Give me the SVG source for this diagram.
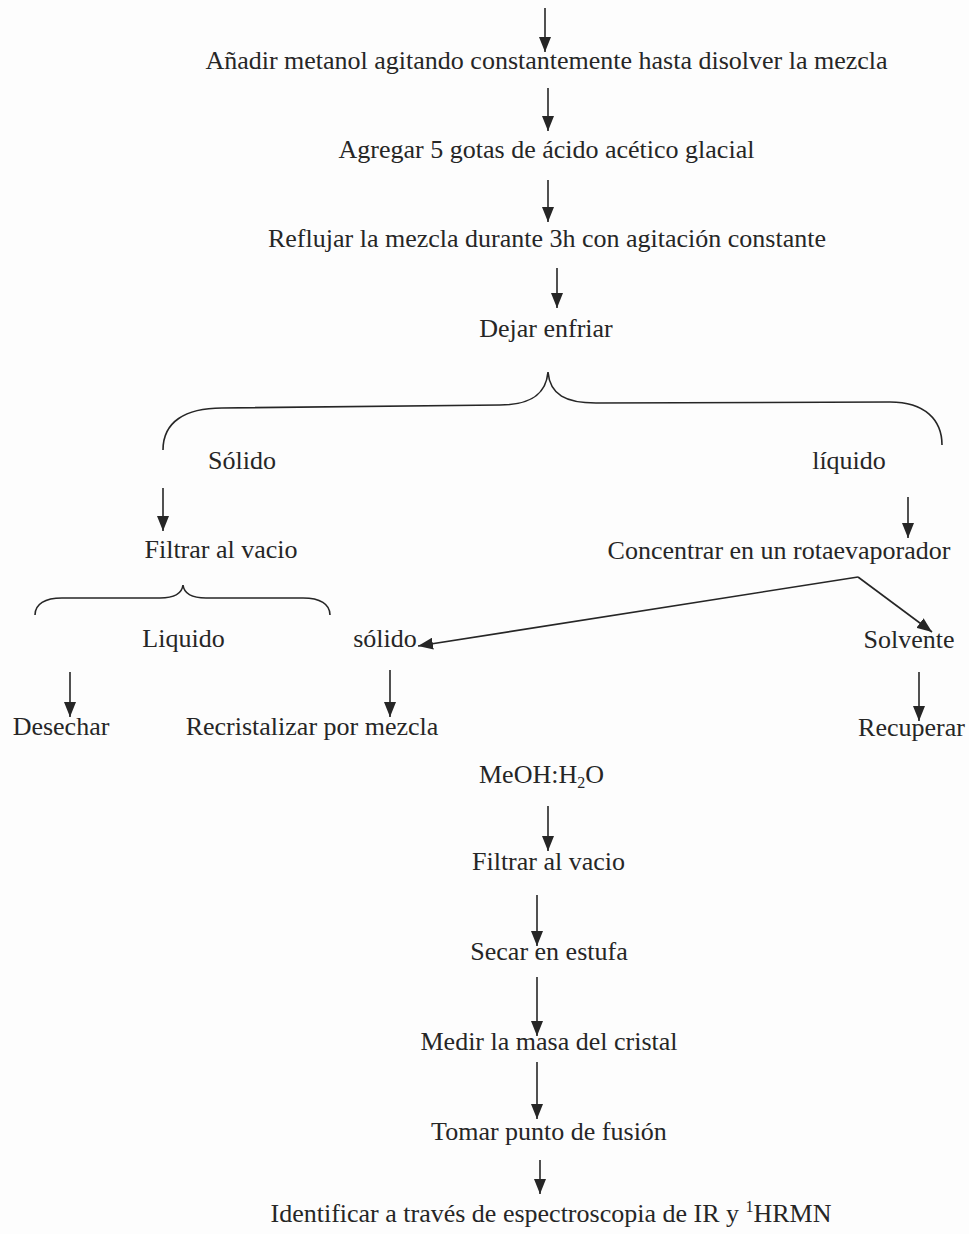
<svg xmlns="http://www.w3.org/2000/svg" width="969" height="1234" viewBox="0 0 969 1234">
<style>
text{font-family:'Liberation Serif','Times New Roman',Times,serif;font-size:26px;fill:#262626;text-anchor:middle}
.c{fill:none;stroke:#262626;stroke-width:1.6}
</style>
<defs>
<marker id="ar" markerUnits="userSpaceOnUse" markerWidth="16" markerHeight="12" viewBox="0 0 16 12" refX="15" refY="6" orient="auto">
<path d="M0,0 L15,6 L0,12 Z" fill="#262626"/>
</marker>
</defs>
<rect width="969" height="1234" fill="#fdfdfd"/>
<g id="connectors">
<line class="c" x1="545" y1="8" x2="545" y2="52" marker-end="url(#ar)"/>
<line class="c" x1="548" y1="88" x2="548" y2="131" marker-end="url(#ar)"/>
<line class="c" x1="548" y1="180" x2="548" y2="222" marker-end="url(#ar)"/>
<line class="c" x1="557" y1="268" x2="557" y2="308" marker-end="url(#ar)"/>
<path class="c" d="M163,450 C163,422 185,408 222,408 L500,405 C530,405 546,395 548,372 C550,395 566,403 596,403 L890,402 C925,402 942,420 942,445"/>
<line class="c" x1="163" y1="488" x2="163" y2="531" marker-end="url(#ar)"/>
<line class="c" x1="908" y1="497" x2="908" y2="538" marker-end="url(#ar)"/>
<path class="c" d="M35,615 C35,604 45,598 62,598 L160,598 C175,598 182,593 183,585 C184,593 191,598 206,598 L303,598 C320,598 330,604 330,615"/>
<line class="c" x1="858" y1="577" x2="418" y2="646" marker-end="url(#ar)"/>
<line class="c" x1="858" y1="577" x2="932" y2="632" marker-end="url(#ar)"/>
<line class="c" x1="70" y1="672" x2="70" y2="717" marker-end="url(#ar)"/>
<line class="c" x1="390" y1="670" x2="390" y2="717" marker-end="url(#ar)"/>
<line class="c" x1="919" y1="672" x2="919" y2="721" marker-end="url(#ar)"/>
<line class="c" x1="548" y1="806" x2="548" y2="851" marker-end="url(#ar)"/>
<line class="c" x1="537" y1="895" x2="537" y2="946" marker-end="url(#ar)"/>
<line class="c" x1="537" y1="977" x2="537" y2="1036" marker-end="url(#ar)"/>
<line class="c" x1="537" y1="1062" x2="537" y2="1119" marker-end="url(#ar)"/>
<line class="c" x1="540" y1="1160" x2="540" y2="1194" marker-end="url(#ar)"/>
</g>
<g id="n1"><text x="546.5" y="69">Añadir metanol agitando constantemente hasta disolver la mezcla</text></g>
<g id="n2"><text x="546.5" y="158">Agregar 5 gotas de ácido acético glacial</text></g>
<g id="n3"><text x="547" y="247">Reflujar la mezcla durante 3h con agitación constante</text></g>
<g id="n4"><text x="546" y="337">Dejar enfriar</text></g>
<g id="n5"><text x="242" y="469">Sólido</text></g>
<g id="n6"><text x="849" y="469">líquido</text></g>
<g id="n7"><text x="221" y="558">Filtrar al vacio</text></g>
<g id="n8"><text x="779" y="559">Concentrar en un rotaevaporador</text></g>
<g id="n9"><text x="183.5" y="647">Liquido</text></g>
<g id="n10"><text x="385" y="647">sólido</text></g>
<g id="n11"><text x="909" y="648">Solvente</text></g>
<g id="n12"><text x="61" y="735">Desechar</text></g>
<g id="n13"><text x="312" y="735">Recristalizar por mezcla</text></g>
<g id="n14"><text x="911.5" y="736">Recuperar</text></g>
<g id="n15"><text x="541.5" y="783">MeOH:H<tspan font-size="16" dy="5">2</tspan><tspan dy="-5">O</tspan></text></g>
<g id="n16"><text x="548.5" y="870">Filtrar al vacio</text></g>
<g id="n17"><text x="549" y="960">Secar en estufa</text></g>
<g id="n18"><text x="549" y="1050">Medir la masa del cristal</text></g>
<g id="n19"><text x="549" y="1140">Tomar punto de fusión</text></g>
<g id="n20"><text x="551" y="1222">Identificar a través de espectroscopia de IR y <tspan font-size="16" dy="-10">1</tspan><tspan dy="10">HRMN</tspan></text></g>
</svg>
